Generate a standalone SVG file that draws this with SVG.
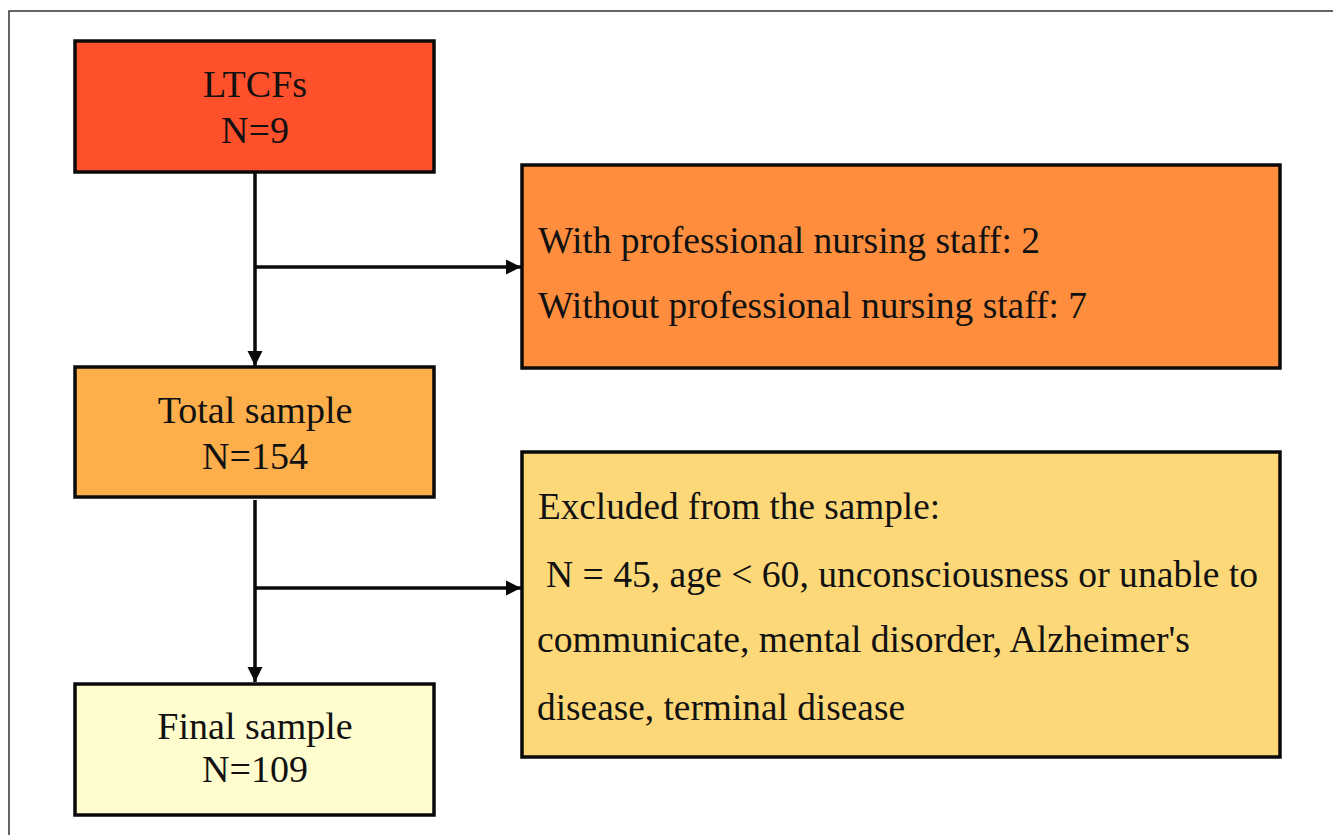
<svg xmlns="http://www.w3.org/2000/svg" width="1333" height="835" viewBox="0 0 1333 835">
<defs>
<style>
.box{stroke:#0a0a0a;stroke-width:3.5}
.t{font-family:"Liberation Serif","Times New Roman",serif;font-size:38px;fill:#111}
.c{text-anchor:middle}
.ln{stroke:#0a0a0a;stroke-width:3.5;fill:none}
</style>
<marker id="ah" viewBox="0 0 10 10" refX="10" refY="5" markerWidth="4.3" markerHeight="4.3" markerUnits="strokeWidth" orient="auto">
<path d="M0,0 L10,5 L0,10 z" fill="#0a0a0a"/>
</marker>
</defs>
<rect width="1333" height="835" fill="#fff"/>
<path d="M9,835 V11 H1333" fill="none" stroke="#333" stroke-width="1.5"/>
<g id="connectors">
<path class="ln" d="M255,172 V366" marker-end="url(#ah)"/>
<path class="ln" d="M255,267 H521" marker-end="url(#ah)"/>
<path class="ln" d="M255,500 V682" marker-end="url(#ah)"/>
<path class="ln" d="M255,588 H521" marker-end="url(#ah)"/>
</g>
<g id="ltcfs">
<rect class="box" x="75" y="41" width="359" height="131" fill="#FE502B"/>
<text class="t c" x="255" y="97">LTCFs</text>
<text class="t c" x="255" y="143">N=9</text>
</g>
<g id="staff">
<rect class="box" x="522" y="165" width="758" height="203" fill="#FE8E3D"/>
<text class="t" x="538" y="253" textLength="502" lengthAdjust="spacingAndGlyphs">With professional nursing staff: 2</text>
<text class="t" x="538" y="318" textLength="549" lengthAdjust="spacingAndGlyphs">Without professional nursing staff: 7</text>
</g>
<g id="total">
<rect class="box" x="75" y="367" width="359" height="130" fill="#FCAF4B"/>
<text class="t c" x="255" y="423">Total sample</text>
<text class="t c" x="255" y="469">N=154</text>
</g>
<g id="excluded">
<rect class="box" x="522" y="452" width="758" height="305" fill="#FCD878"/>
<text class="t" x="538" y="519" textLength="402" lengthAdjust="spacingAndGlyphs">Excluded from the sample:</text>
<text class="t" x="546" y="587" textLength="712" lengthAdjust="spacingAndGlyphs">N = 45, age &lt; 60, unconsciousness or unable to</text>
<text class="t" x="537" y="652" textLength="653" lengthAdjust="spacingAndGlyphs">communicate, mental disorder, Alzheimer's</text>
<text class="t" x="537" y="720" textLength="368" lengthAdjust="spacingAndGlyphs">disease, terminal disease</text>
</g>
<g id="final">
<rect class="box" x="75" y="684" width="359" height="131" fill="#FFFCCD"/>
<text class="t c" x="255" y="739">Final sample</text>
<text class="t c" x="255" y="782">N=109</text>
</g>
</svg>
